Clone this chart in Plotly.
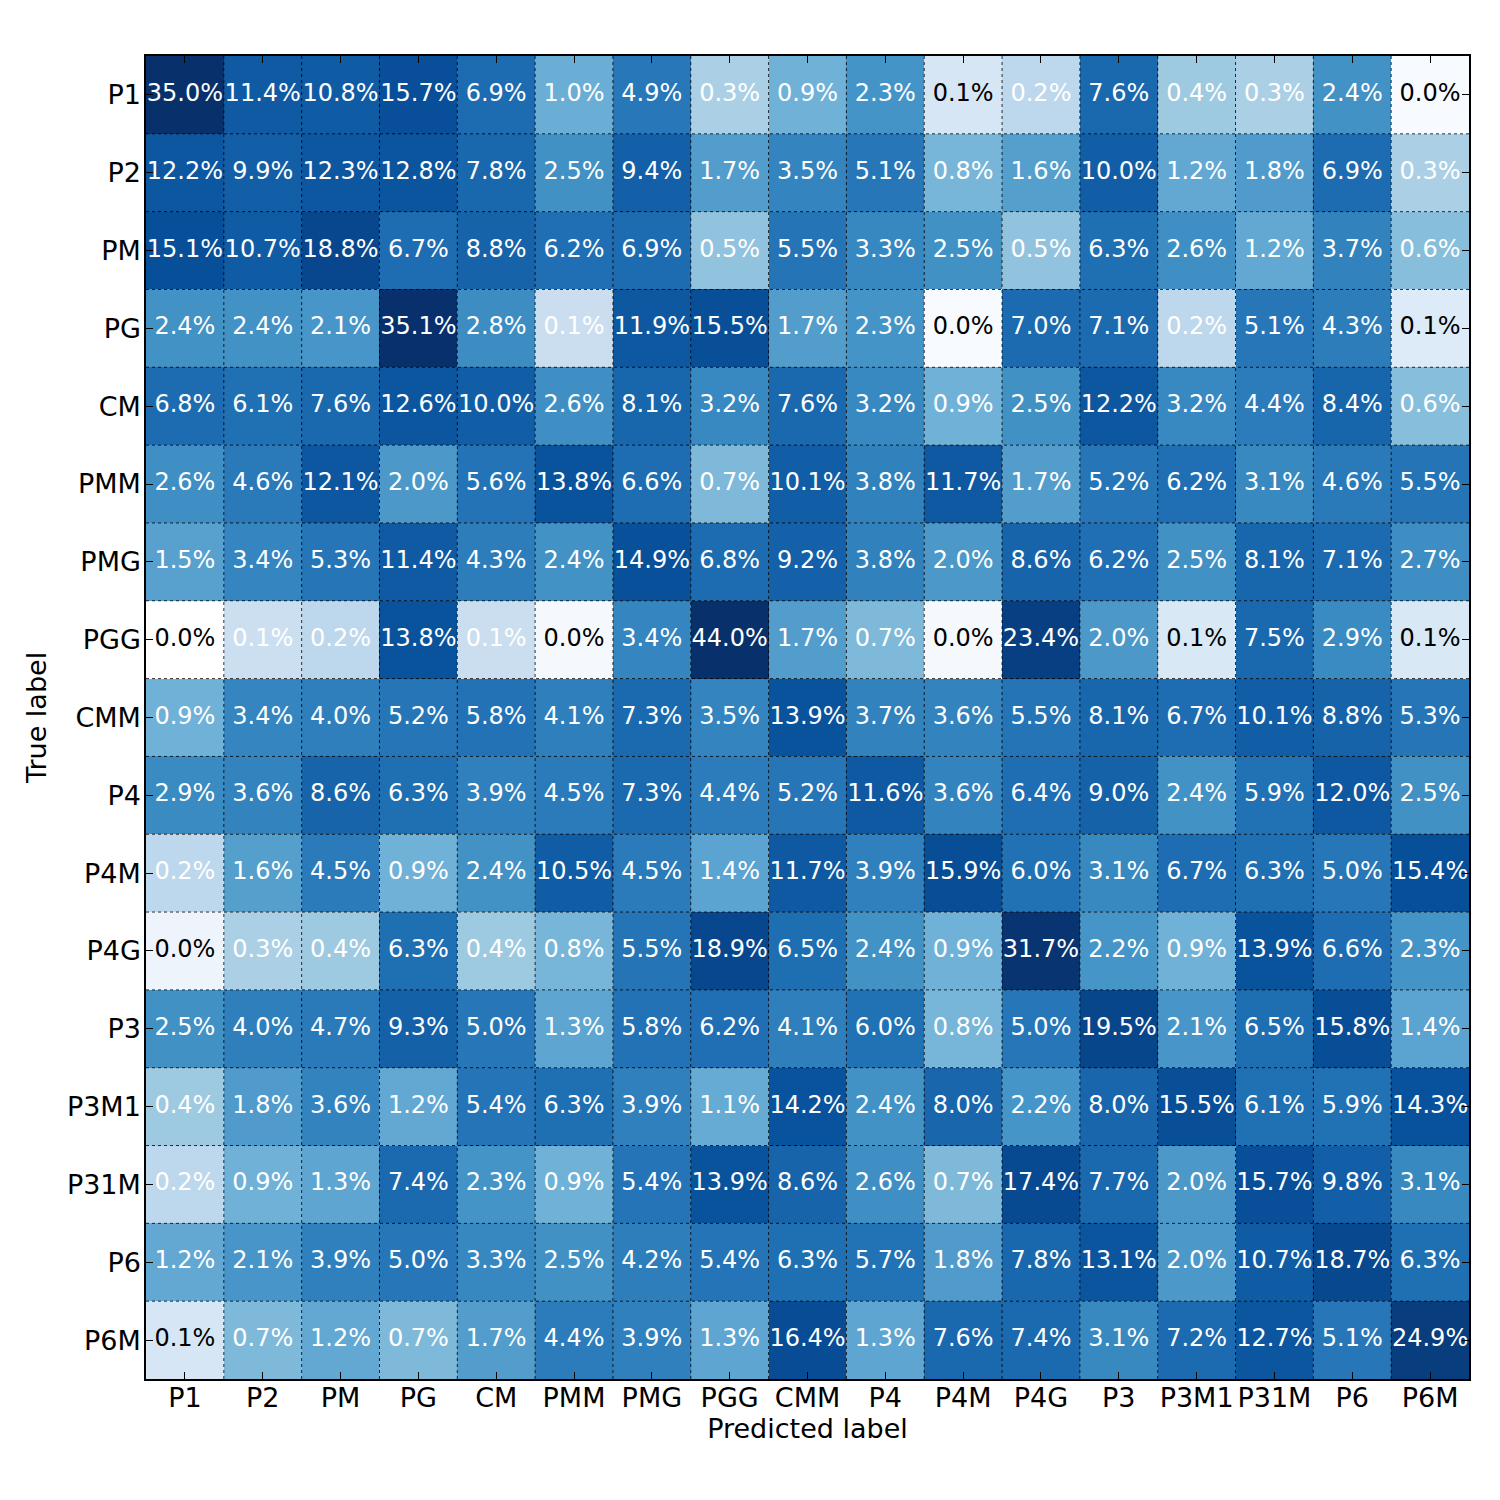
import numpy as np
import plotly.graph_objects as go
import plotly.colors as pc

classes = ['P1', 'P2', 'PM', 'PG', 'CM', 'PMM', 'PMG', 'PGG', 'CMM',
           'P4', 'P4M', 'P4G', 'P3', 'P3M1', 'P31M', 'P6', 'P6M']

# row normalised confusion matrix in percent (rows = true label, cols = predicted)
# values shown as 0.0% / 0.1% got their hidden decimal guessed from the cell shade
row_p1 = [35.0, 11.4, 10.8, 15.7, 6.9, 1.0, 4.9, 0.3, 0.9, 2.3, 0.09, 0.2, 7.6, 0.4, 0.3, 2.4, 0.02]
row_p2 = [12.2, 9.9, 12.3, 12.8, 7.8, 2.5, 9.4, 1.7, 3.5, 5.1, 0.8, 1.6, 10.0, 1.2, 1.8, 6.9, 0.3]
row_pm = [15.1, 10.7, 18.8, 6.7, 8.8, 6.2, 6.9, 0.5, 5.5, 3.3, 2.5, 0.5, 6.3, 2.6, 1.2, 3.7, 0.6]
row_pg = [2.4, 2.4, 2.1, 35.1, 2.8, 0.14, 11.9, 15.5, 1.7, 2.3, 0.02, 7.0, 7.1, 0.2, 5.1, 4.3, 0.07]
row_cm = [6.8, 6.1, 7.6, 12.6, 10.0, 2.6, 8.1, 3.2, 7.6, 3.2, 0.9, 2.5, 12.2, 3.2, 4.4, 8.4, 0.6]
row_pmm = [2.6, 4.6, 12.1, 2.0, 5.6, 13.8, 6.6, 0.7, 10.1, 3.8, 11.7, 1.7, 5.2, 6.2, 3.1, 4.6, 5.5]
row_pmg = [1.5, 3.4, 5.3, 11.4, 4.3, 2.4, 14.9, 6.8, 9.2, 3.8, 2.0, 8.6, 6.2, 2.5, 8.1, 7.1, 2.7]
row_pgg = [0.0, 0.13, 0.2, 13.8, 0.14, 0.03, 3.4, 44.0, 1.7, 0.7, 0.03, 23.4, 2.0, 0.08, 7.5, 2.9, 0.08]
row_cmm = [0.9, 3.4, 4.0, 5.2, 5.8, 4.1, 7.3, 3.5, 13.9, 3.7, 3.6, 5.5, 8.1, 6.7, 10.1, 8.8, 5.3]
row_p4 = [2.9, 3.6, 8.6, 6.3, 3.9, 4.5, 7.3, 4.4, 5.2, 11.6, 3.6, 6.4, 9.0, 2.4, 5.9, 12.0, 2.5]
row_p4m = [0.2, 1.6, 4.5, 0.9, 2.4, 10.5, 4.5, 1.4, 11.7, 3.9, 15.9, 6.0, 3.1, 6.7, 6.3, 5.0, 15.4]
row_p4g = [0.04, 0.3, 0.4, 6.3, 0.4, 0.8, 5.5, 18.9, 6.5, 2.4, 0.9, 31.7, 2.2, 0.9, 13.9, 6.6, 2.3]
row_p3 = [2.5, 4.0, 4.7, 9.3, 5.0, 1.3, 5.8, 6.2, 4.1, 6.0, 0.8, 5.0, 19.5, 2.1, 6.5, 15.8, 1.4]
row_p3m1 = [0.4, 1.8, 3.6, 1.2, 5.4, 6.3, 3.9, 1.1, 14.2, 2.4, 8.0, 2.2, 8.0, 15.5, 6.1, 5.9, 14.3]
row_p31m = [0.2, 0.9, 1.3, 7.4, 2.3, 0.9, 5.4, 13.9, 8.6, 2.6, 0.7, 17.4, 7.7, 2.0, 15.7, 9.8, 3.1]
row_p6 = [1.2, 2.1, 3.9, 5.0, 3.3, 2.5, 4.2, 5.4, 6.3, 5.7, 1.8, 7.8, 13.1, 2.0, 10.7, 18.7, 6.3]
row_p6m = [0.09, 0.7, 1.2, 0.7, 1.7, 4.4, 3.9, 1.3, 16.4, 1.3, 7.6, 7.4, 3.1, 7.2, 12.7, 5.1, 24.9]

cm = np.array([row_p1, row_p2, row_pm, row_pg, row_cm, row_pmm, row_pmg, row_pgg, row_cmm,
               row_p4, row_p4m, row_p4g, row_p3, row_p3m1, row_p31m, row_p6, row_p6m])
n = len(classes)

# log colour scale, exact zeros left blank
with np.errstate(divide='ignore'):
    z = np.where(cm > 0, np.log10(cm), np.nan)

blues = pc.sequential.Blues
scale = [[i / (len(blues) - 1), c] for i, c in enumerate(blues)]

fig = go.Figure()
fig.add_trace(go.Heatmap(z=z, x=list(range(n)), y=list(range(n)),
                         colorscale=scale, zmin=-1.56, zmax=1.55,
                         showscale=False, hoverinfo='skip'))

xs, ys, txt, cols = [], [], [], []
for i in range(n):
    for j in range(n):
        v = cm[i, j]
        xs.append(j)
        ys.append(i)
        txt.append(f"{v:.1f}%")
        cols.append('white' if v > 0.11 else 'black')

fig.add_trace(go.Scatter(x=xs, y=ys, mode='text', text=txt,
                         textfont=dict(family='DejaVu Sans', size=24, color=cols),
                         hoverinfo='skip', showlegend=False))

# dotted cell borders
for k in range(1, n):
    fig.add_shape(type='line', x0=k - 0.5, x1=k - 0.5, y0=-0.5, y1=n - 0.5,
                  line=dict(color='rgba(0,0,0,0.8)', width=1, dash='dot'))
    fig.add_shape(type='line', y0=k - 0.5, y1=k - 0.5, x0=-0.5, x1=n - 0.5,
                  line=dict(color='rgba(0,0,0,0.8)', width=1, dash='dot'))

axis = dict(tickvals=list(range(n)), ticktext=classes, showgrid=False, zeroline=False,
            ticks='inside', ticklen=7, tickwidth=1, tickcolor='black',
            showline=True, linecolor='black', linewidth=1.5, mirror='allticks',
            tickfont=dict(size=27, color='black'))

fig.update_layout(
    width=1500, height=1500,
    margin=dict(l=138, r=39, t=48, b=129),
    paper_bgcolor='white', plot_bgcolor='white',
    font=dict(family='DejaVu Sans', color='black'),
    showlegend=False,
    xaxis=dict(axis, range=[-0.5, n - 0.5], ticklabelstandoff=-6,
               title=dict(text='Predicted label', font=dict(size=27), standoff=4)),
    yaxis=dict(axis, range=[n - 0.5, -0.5], ticklabelstandoff=-2,
               title=dict(text='True label', font=dict(size=27), standoff=12)),
)

fig.write_html("out.html")
